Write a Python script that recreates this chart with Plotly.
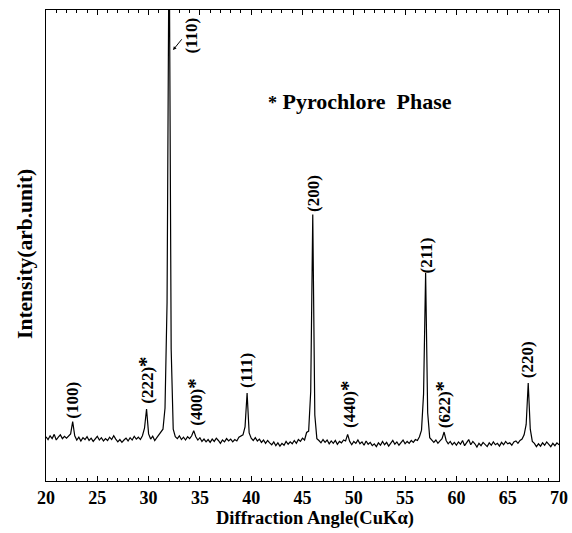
import plotly.graph_objects as go

# Scan sampling: 20.0 .. 70.0 degrees in 0.2 degree steps
start_angle = 20.0
step = 0.2

# Measured intensity (arb. units), one value per 0.2 degree step, 2 degrees per row
intensity = [
    9.4, 8.8, 9.6, 9.0, 9.9, 8.7, 9.3, 9.8, 9.0, 9.5,      # 20.0 - 21.8
    9.1, 9.6, 10.0, 12.6, 9.6, 8.7, 9.3, 8.5, 9.2, 8.8,    # 22.0 - 23.8
    9.4, 8.6, 9.1, 8.4, 9.0, 9.5, 8.7, 9.2, 8.5, 9.0,      # 24.0 - 25.8
    8.6, 9.3, 8.8, 9.6, 8.9, 8.3, 8.8, 8.2, 8.7, 9.1,      # 26.0 - 27.8
    8.5, 9.2, 8.7, 9.5, 8.9, 9.3, 8.8, 9.6, 11.2, 15.3,    # 28.0 - 29.8
    10.0, 8.9, 9.5, 8.6, 9.2, 9.8, 10.4, 11.0, 15.5, 38.0, # 30.0 - 31.8
    120.0, 28.0, 11.0, 9.4, 9.0, 9.6, 8.8, 9.3, 8.7, 9.4,  # 32.0 - 33.8
    9.0, 9.6, 10.7, 9.4, 8.7, 9.2, 8.4, 8.9, 8.3, 8.8,     # 34.0 - 35.8
    8.2, 8.9, 8.4, 9.1, 8.6, 8.0, 8.7, 8.3, 9.0, 8.5,      # 36.0 - 37.8
    8.9, 8.3, 8.8, 8.5, 9.3, 9.6, 9.8, 11.5, 18.7, 10.2,   # 38.0 - 39.8
    9.1, 8.6, 9.2, 8.5, 8.9, 8.2, 8.7, 8.0, 8.6, 8.1,      # 40.0 - 41.8
    7.7, 8.3, 7.5, 8.1, 7.4, 8.0, 7.6, 8.4, 7.8, 8.3,      # 42.0 - 43.8
    7.9, 8.6, 8.0, 8.8, 8.4, 9.1, 8.7, 10.3, 10.6, 19.0,   # 44.0 - 45.8
    56.6, 14.0, 9.0, 8.6, 8.1, 8.8, 8.2, 8.7, 7.9, 8.5,    # 46.0 - 47.8
    8.0, 8.6, 7.8, 8.4, 8.1, 8.7, 8.5, 9.9, 8.4, 7.7,      # 48.0 - 49.8
    8.4, 8.0, 8.7, 7.9, 8.3, 7.6, 8.5, 7.8, 8.2, 7.5,      # 50.0 - 51.8
    7.9, 7.3, 8.1, 7.6, 8.4, 7.7, 8.2, 7.4, 8.0, 8.6,      # 52.0 - 53.8
    7.8, 8.3, 7.6, 8.2, 8.7, 7.9, 8.4, 8.0, 8.6, 8.2,      # 54.0 - 55.8
    8.8, 8.6, 9.4, 10.8, 18.5, 44.2, 14.5, 9.2, 8.6, 8.2,  # 56.0 - 57.8
    8.7, 8.0, 8.5, 9.0, 10.4, 8.6, 7.9, 8.4, 7.7, 8.2,     # 58.0 - 59.8
    7.6, 8.3, 7.8, 8.6, 7.5, 8.1, 8.8, 7.7, 8.4, 7.9,      # 60.0 - 61.8
    7.2, 8.0, 7.5, 8.2, 7.8, 7.3, 8.1, 7.6, 8.3, 7.7,      # 62.0 - 63.8
    8.0, 7.4, 8.2, 7.7, 8.4, 7.9, 8.1, 7.6, 8.3, 8.5,      # 64.0 - 65.8
    8.0, 8.6, 8.9, 9.8, 12.0, 20.8, 11.0, 8.4, 8.0, 7.3,   # 66.0 - 67.8
    7.9, 7.4, 8.1, 7.6, 8.3, 7.8, 7.3, 8.0, 7.5, 8.1,      # 68.0 - 69.8
    7.7,                                                   # 70.0
]
two_theta = [round(start_angle + step * i, 1) for i in range(len(intensity))]

# Reflection labels: Miller index, pyrochlore flag, angle, label centre height
peak_labels = ["(100)", "(222)", "(400)", "(111)", "(200)", "(440)", "(211)", "(622)", "(220)"]
pyrochlore = [False, True, True, False, False, True, False, True, False]
label_angle = [22.6, 29.8, 34.5, 39.6, 46.0, 49.5, 57.1, 58.7, 67.0]
label_level = [17.2, 21.4, 16.8, 23.4, 61.1, 16.3, 47.8, 16.1, 25.7]

x_ticks = [20, 25, 30, 35, 40, 45, 50, 55, 60, 65, 70]

serif = "Liberation Serif"
star = "<span style='font-size:21px'>*</span>"

fig = go.Figure()
fig.add_trace(go.Scatter(
    x=two_theta, y=intensity, mode="lines",
    line=dict(color="black", width=1.2),
    showlegend=False, hoverinfo="skip",
))

annotations = []
for text, flag, ang, lvl in zip(peak_labels, pyrochlore, label_angle, label_level):
    annotations.append(dict(
        x=ang, y=lvl, xref="x", yref="y", text=text + (star if flag else ""),
        showarrow=False, textangle=-90, xanchor="center", yanchor="middle",
        font=dict(family=serif, size=17, color="black", weight="bold"),
    ))

# (110) label with a pointer to the main peak
annotations.append(dict(
    x=34.2, y=94.5, xref="x", yref="y", text="(110)", showarrow=False,
    textangle=-90, xanchor="center", yanchor="middle",
    font=dict(family=serif, size=17, color="black", weight="bold"),
))
annotations.append(dict(
    x=32.38, y=91.5, xref="x", yref="y", ax=33.35, ay=94.1, axref="x", ayref="y",
    text="", showarrow=True, arrowhead=2, arrowsize=0.7, arrowwidth=1, arrowcolor="black",
))

# Legend note
annotations.append(dict(
    x=0.612, y=80.5, xref="paper", yref="y",
    text="<span style='font-size:18px'>*</span> Pyrochlore  Phase", showarrow=False,
    xanchor="center", yanchor="middle",
    font=dict(family=serif, size=22, color="black", weight="bold"),
))

# Axis titles
annotations.append(dict(
    x=0.525, y=-0.079, xref="paper", yref="paper", text="Diffraction Angle(CuKα)",
    showarrow=False, xanchor="center", yanchor="middle",
    font=dict(family=serif, size=18.5, color="black", weight="bold"),
))
annotations.append(dict(
    x=-0.041, y=0.482, xref="paper", yref="paper", text="Intensity(arb.unit)",
    showarrow=False, textangle=-90, xanchor="center", yanchor="middle",
    font=dict(family=serif, size=21.5, color="black", weight="bold"),
))

fig.update_layout(
    width=572, height=533, autosize=False,
    margin=dict(l=46, r=13, t=10, b=52, pad=0),
    paper_bgcolor="white", plot_bgcolor="white",
    annotations=annotations,
    xaxis=dict(
        range=[20, 70], tickmode="array", tickvals=x_ticks,
        ticktext=[str(t) for t in x_ticks], automargin=False,
        ticks="inside", ticklen=5, tickwidth=1, tickcolor="black",
        minor=dict(dtick=1, ticks="inside", ticklen=3, tickwidth=1, tickcolor="black"),
        showline=True, linecolor="black", linewidth=1.2, mirror="allticks",
        showgrid=False, zeroline=False,
        tickfont=dict(family=serif, size=18, color="black", weight="bold"),
    ),
    yaxis=dict(
        range=[0, 100], showticklabels=False, ticks="", automargin=False,
        showline=True, linecolor="black", linewidth=1.2, mirror=True,
        showgrid=False, zeroline=False,
    ),
)

fig.write_html("out.html")
